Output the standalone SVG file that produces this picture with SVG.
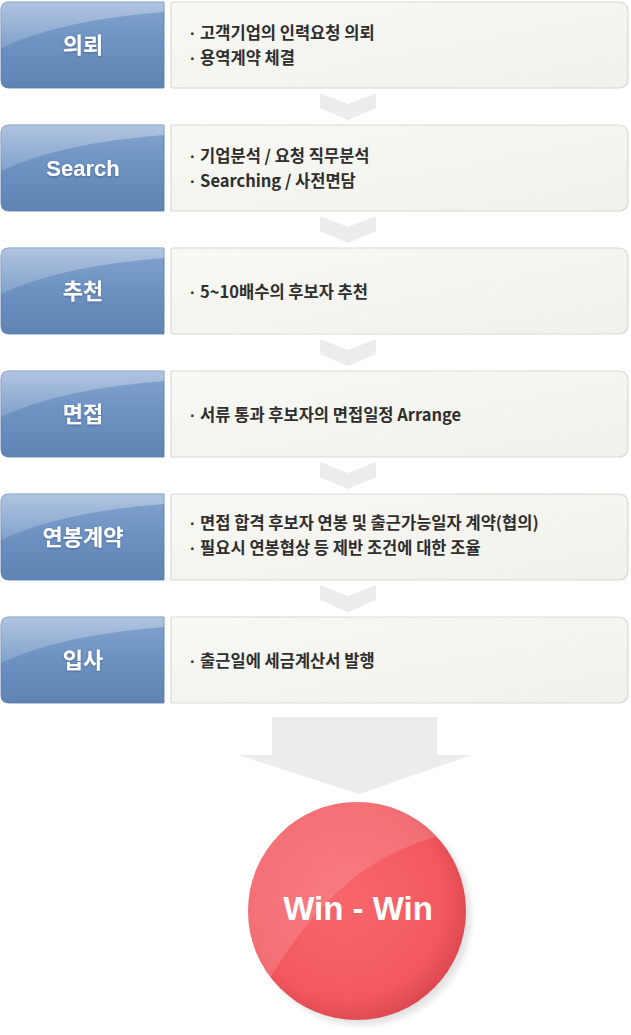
<svg xmlns="http://www.w3.org/2000/svg" width="631" height="1035" viewBox="0 0 631 1035">
<defs>
<linearGradient id="blue" x1="0" y1="0" x2="0" y2="1">
<stop offset="0" stop-color="#84a4cf"/>
<stop offset="0.45" stop-color="#6e93c3"/>
<stop offset="1" stop-color="#5f84b4"/>
</linearGradient>
<linearGradient id="gloss" x1="0" y1="0" x2="0" y2="1">
<stop offset="0" stop-color="#ffffff" stop-opacity="0.35"/>
<stop offset="1" stop-color="#ffffff" stop-opacity="0.15"/>
</linearGradient>
<linearGradient id="panel" x1="0" y1="0" x2="1" y2="1">
<stop offset="0" stop-color="#f8f8f4"/>
<stop offset="1" stop-color="#f1f1ec"/>
</linearGradient>
<radialGradient id="red" cx="0.45" cy="0.45" r="0.6">
<stop offset="0" stop-color="#f8666c"/>
<stop offset="0.75" stop-color="#f2595f"/>
<stop offset="1" stop-color="#d9434c"/>
</radialGradient>
<clipPath id="circ"><circle cx="357" cy="911" r="109"/></clipPath>
<filter id="blur" x="-20%" y="-20%" width="140%" height="140%"><feGaussianBlur stdDeviation="3"/></filter>
<filter id="ts" x="-10%" y="-20%" width="120%" height="140%"><feDropShadow dx="0" dy="1" stdDeviation="1" flood-color="#2b4a75" flood-opacity="0.6"/></filter>
<path id="bluebox" d="M9,0 H164 V86 H9 Q1,86 1,78 V8 Q1,0 9,0 Z"/>
<path id="glossp" d="M9,0 H164 V10 Q60,18 1,46 V8 Q1,0 9,0 Z"/>
<path id="txtbox" d="M173,0 H618 Q628,0 628,10 V76 Q628,86 618,86 H173 Q171,86 171,84 V2 Q171,0 173,0 Z"/>
<polygon id="chev" points="320,0 348,11 376,0 376,15 348,27 320,15"/>
</defs>
<style>
.lbl{font-family:"Liberation Sans","Noto Sans CJK KR",sans-serif;font-weight:bold;font-size:22px;fill:#ffffff;text-anchor:middle}
.desc{font-family:"Noto Sans CJK KR","Noto Sans",sans-serif;font-weight:bold;font-size:16.5px;fill:#2e2e2e}
.b{font-family:"Liberation Sans",sans-serif}
.blue{fill:url(#blue);stroke:#527aab;stroke-width:0.8}
.gl{fill:url(#gloss)}
.panel{fill:url(#panel);stroke:#d9d9d4;stroke-width:1.2}
.chev{fill:#ececec}
</style>
<rect width="631" height="1035" fill="#ffffff"/>

<g id="connectors">
<use href="#chev" class="chev" y="93"/>
<use href="#chev" class="chev" y="216"/>
<use href="#chev" class="chev" y="339"/>
<use href="#chev" class="chev" y="462"/>
<use href="#chev" class="chev" y="585"/>
<polygon class="chev" points="272,717 437,717 437,755 472,755 359,794 238,755 272,755" fill="#ebebeb"/>
</g>

<g id="step1" transform="translate(0,2)">
<use href="#bluebox" class="blue"/><use href="#glossp" class="gl"/>
<text class="lbl" x="83" y="51" filter="url(#ts)">의뢰</text>
<use href="#txtbox" class="panel"/>
<text class="desc" x="190" y="37"><tspan class="b">· </tspan>고객기업의 인력요청 의뢰</text>
<text class="desc" x="190" y="62"><tspan class="b">· </tspan>용역계약 체결</text>
</g>

<g id="step2" transform="translate(0,125)">
<use href="#bluebox" class="blue"/><use href="#glossp" class="gl"/>
<text class="lbl" x="83" y="51" filter="url(#ts)">Search</text>
<use href="#txtbox" class="panel"/>
<text class="desc" x="190" y="37"><tspan class="b">· </tspan>기업분석 / 요청 직무분석</text>
<text class="desc" x="190" y="62"><tspan class="b">· </tspan>Searching / 사전면담</text>
</g>

<g id="step3" transform="translate(0,248)">
<use href="#bluebox" class="blue"/><use href="#glossp" class="gl"/>
<text class="lbl" x="83" y="51" filter="url(#ts)">추천</text>
<use href="#txtbox" class="panel"/>
<text class="desc" x="190" y="50"><tspan class="b">· </tspan>5~10배수의 후보자 추천</text>
</g>

<g id="step4" transform="translate(0,371)">
<use href="#bluebox" class="blue"/><use href="#glossp" class="gl"/>
<text class="lbl" x="83" y="51" filter="url(#ts)">면접</text>
<use href="#txtbox" class="panel"/>
<text class="desc" x="190" y="50"><tspan class="b">· </tspan>서류 통과 후보자의 면접일정 Arrange</text>
</g>

<g id="step5" transform="translate(0,494)">
<use href="#bluebox" class="blue"/><use href="#glossp" class="gl"/>
<text class="lbl" x="83" y="51" filter="url(#ts)">연봉계약</text>
<use href="#txtbox" class="panel"/>
<text class="desc" x="190" y="35"><tspan class="b">· </tspan>면접 합격 후보자 연봉 및 출근가능일자 계약(협의)</text>
<text class="desc" x="190" y="60"><tspan class="b">· </tspan>필요시 연봉협상 등 제반 조건에 대한 조율</text>
</g>

<g id="step6" transform="translate(0,617)">
<use href="#bluebox" class="blue"/><use href="#glossp" class="gl"/>
<text class="lbl" x="83" y="51" filter="url(#ts)">입사</text>
<use href="#txtbox" class="panel"/>
<text class="desc" x="190" y="50"><tspan class="b">· </tspan>출근일에 세금계산서 발행</text>
</g>

<g id="winwin">
<circle cx="362" cy="916" r="109" fill="#d6d6d6" filter="url(#blur)" opacity="0.7"/>
<circle cx="357" cy="911" r="109" fill="url(#red)"/>
<path clip-path="url(#circ)" d="M240,800 L470,800 L470,828 Q420,838 380,860 Q320,895 270,978 L240,990 Z" fill="#ffffff" fill-opacity="0.14"/>
<text x="358" y="920" font-family="Liberation Sans, Noto Sans, sans-serif" font-weight="bold" font-size="33" fill="#ffffff" text-anchor="middle">Win - Win</text>
</g>
</svg>
